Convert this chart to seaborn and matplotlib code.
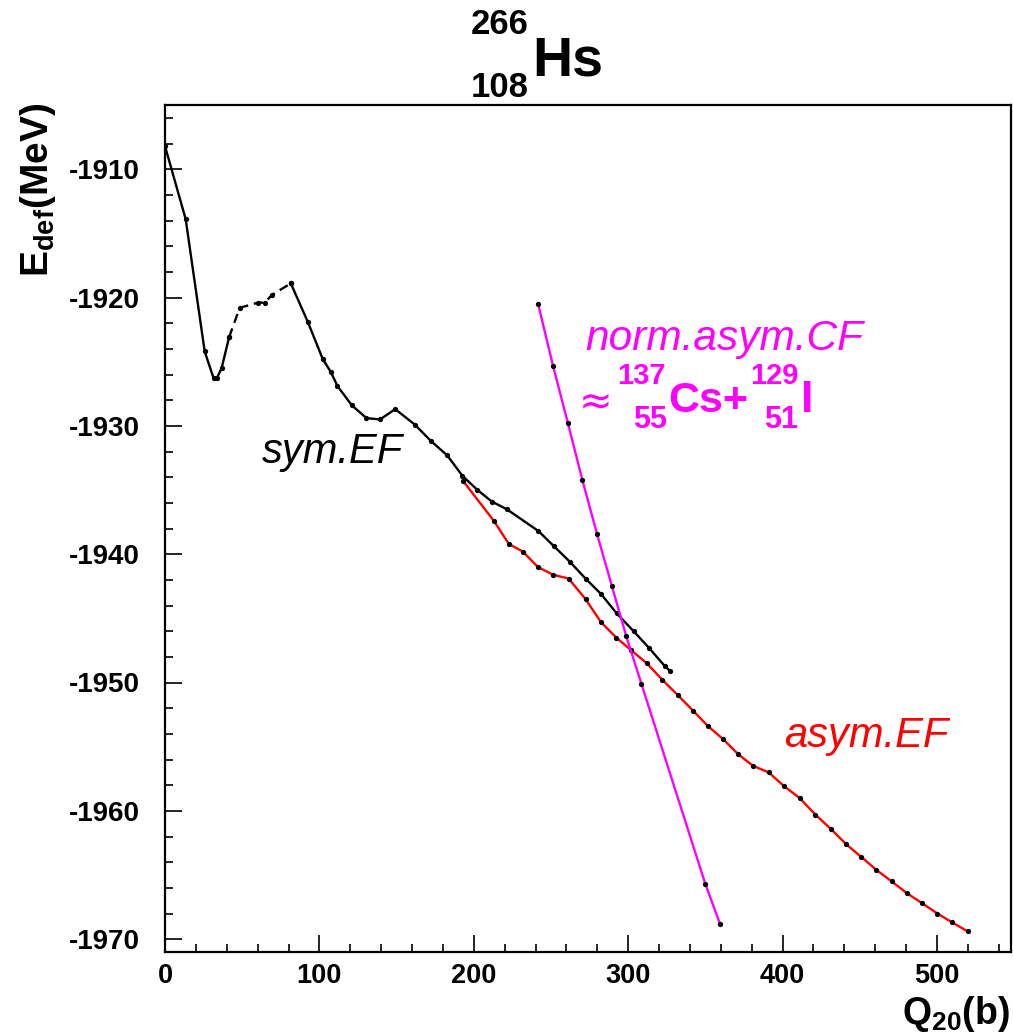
import matplotlib
matplotlib.use("Agg")
import matplotlib.pyplot as plt
import seaborn as sns
import pandas as pd
import numpy as np

# ---------------- data ----------------
sym_q = [0.0, 13.4, 25.7, 31.5, 33.5, 36.7, 41.5,
         48.4, 60.3, 64.6, 69.3, 81.5,
         92.5, 102.2, 107.4, 111.7, 121.0, 130.5, 139.3, 149.1, 161.8, 172.4,
         182.8, 192.7, 202.4, 211.7, 221.4, 241.9, 252.1, 262.3, 272.4, 282.4,
         292.5, 303.5, 313.5, 323.6, 327.1]
sym_e = [-1908.2, -1913.9, -1924.2, -1926.3, -1926.3, -1925.5, -1923.1,
         -1920.8, -1920.4, -1920.4, -1919.8, -1918.9,
         -1921.9, -1924.8, -1925.8, -1926.9, -1928.4, -1929.4, -1929.5, -1928.7,
         -1929.9, -1931.2, -1932.3, -1933.9, -1935.0, -1935.9, -1936.5, -1938.2,
         -1939.4, -1940.6, -1941.9, -1943.1, -1944.6, -1946.0, -1947.3, -1948.7,
         -1949.1]
# Q range of the dashed (uncertain) part of the symmetric path
sym_dashed_range = [41.5, 81.5]

asym_q = [193.1, 213.0, 222.7, 231.8, 241.5, 251.3, 261.4, 272.4, 282.4, 292.3,
          302.1, 312.1, 322.2, 332.3, 342.1, 351.7, 361.4, 371.4, 380.9, 391.0,
          401.2, 411.1, 421.3, 431.2, 441.2, 451.1, 460.8, 470.7, 480.4, 490.4,
          500.3, 510.0, 520.0]
asym_e = [-1934.3, -1937.4, -1939.2, -1939.8, -1941.0, -1941.6, -1941.9, -1943.5,
          -1945.3, -1946.5, -1947.5, -1948.5, -1949.8, -1951.0, -1952.2, -1953.4,
          -1954.4, -1955.6, -1956.5, -1957.0, -1958.1, -1959.0, -1960.3, -1961.4,
          -1962.6, -1963.6, -1964.6, -1965.5, -1966.4, -1967.2, -1968.0, -1968.7,
          -1969.4]

cf_q = [241.7, 251.3, 261.0, 270.3, 279.8, 289.5, 298.8, 308.6, 350.0, 359.5]
cf_e = [-1920.5, -1925.3, -1929.8, -1934.2, -1938.4, -1942.5, -1946.4, -1950.1,
        -1965.7, -1968.8]

x_ticks = [0, 100, 200, 300, 400, 500]
y_ticks = [-1970, -1960, -1950, -1940, -1930, -1920, -1910]

# ---------------- style ----------------
sns.set_style("white")
plt.rcParams["font.family"] = ["Liberation Sans", "DejaVu Sans"]
plt.rcParams["mathtext.fontset"] = "custom"
plt.rcParams["mathtext.rm"] = "Liberation Sans"
plt.rcParams["mathtext.bf"] = "Liberation Sans:bold"
plt.rcParams["mathtext.it"] = "Liberation Sans:italic"
plt.rcParams["text.color"] = "black"
plt.rcParams["xtick.color"] = "black"
plt.rcParams["ytick.color"] = "black"
plt.rcParams["axes.labelcolor"] = "black"
plt.rcParams["axes.edgecolor"] = "black"

W, H = 1013, 1036
fig = plt.figure(figsize=(W / 100, H / 100), dpi=100)
ax = fig.add_axes([165 / W, 1 - 952 / H, (1011 - 165) / W, (952 - 105) / H])


def fx(px):
    return px / W


def fy(py):
    return 1 - py / H


sym = pd.DataFrame({"q": sym_q, "e": sym_e})
lo, hi = sym_dashed_range
part1 = sym[sym.q <= lo]
part2 = sym[(sym.q >= lo) & (sym.q <= hi)]
part3 = sym[sym.q >= hi]

common = dict(sort=False, estimator=None, marker="o", markersize=3.8,
              markerfacecolor="black", markeredgecolor="black",
              markeredgewidth=0, linewidth=1.7, ax=ax, legend=False)

sns.lineplot(data=part1, x="q", y="e", color="black", **common)
sns.lineplot(data=part2, x="q", y="e", color="black", linestyle=(0, (4, 2.5)), **common)
sns.lineplot(data=part3, x="q", y="e", color="black", **common)

asym = pd.DataFrame({"q": asym_q, "e": asym_e})
sns.lineplot(data=asym, x="q", y="e", color="#ff0000", **common)

cf = pd.DataFrame({"q": cf_q, "e": cf_e})
sns.lineplot(data=cf, x="q", y="e", color="#ff00ff", **common)

ax.set_xlim(0, 548)
ax.set_ylim(-1971.0, -1905.0)
ax.set_xticks(x_ticks)
ax.set_yticks(y_ticks)
ax.set_xticks(np.arange(0, 548, 20), minor=True)
ax.set_yticks(np.arange(-1970, -1905, 2), minor=True)
ax.set_xticklabels([str(v) for v in x_ticks])
ax.set_yticklabels([str(v) for v in y_ticks])
ax.tick_params(axis="both", which="both", direction="in", top=False, right=False,
               bottom=True, left=True, color="black", width=1.2,
               labelcolor="black")
ax.tick_params(axis="both", which="major", length=12)
ax.tick_params(axis="both", which="minor", length=6)
ax.tick_params(axis="y", which="major", pad=18, labelsize=20)
ax.tick_params(axis="x", which="major", pad=8, labelsize=19.5)
for lab in ax.get_xticklabels() + ax.get_yticklabels():
    lab.set_fontweight("bold")
for s in ax.spines.values():
    s.set_color("black")
    s.set_linewidth(1.6)
ax.set_xlabel("")
ax.set_ylabel("")

# axis titles
fig.text(fx(1010), fy(1034), r"$\mathbf{Q}_{\mathbf{20}}\mathbf{(b)}$",
         ha="right", va="bottom", fontsize=27, color="black")
fig.text(fx(18), fy(277), r"$\mathbf{E}_{\mathbf{def}}\mathbf{(MeV)}$",
         rotation=90, ha="left", va="bottom", fontsize=28, color="black")

# title: 266/108 Hs
fig.text(fx(529), fy(34), "266", ha="right", va="baseline", fontsize=25, fontweight="bold")
fig.text(fx(529), fy(97), "108", ha="right", va="baseline", fontsize=25, fontweight="bold")
fig.text(fx(532), fy(75), "Hs", ha="left", va="baseline", fontsize=40, fontweight="bold")

# annotations
fig.text(fx(262), fy(463), "sym.EF", ha="left", va="baseline", fontsize=30,
         fontstyle="italic", color="black")
fig.text(fx(784), fy(747), "asym.EF", ha="left", va="baseline", fontsize=30,
         fontstyle="italic", color="#ff0000")
fig.text(fx(585), fy(350), "norm.asym.CF", ha="left", va="baseline", fontsize=30.5,
         fontstyle="italic", color="#ff00ff")

mag = "#ff00ff"
fig.text(fx(579), fy(413), "\u2248", ha="left", va="baseline", fontsize=29,
         color=mag, family=["DejaVu Sans"])
fig.text(fx(666), fy(384), "137", ha="right", va="baseline", fontsize=21, fontweight="bold", color=mag)
fig.text(fx(667), fy(428), "55", ha="right", va="baseline", fontsize=22, fontweight="bold", color=mag)
fig.text(fx(668), fy(412), "Cs+", ha="left", va="baseline", fontsize=31, fontweight="bold", color=mag)
fig.text(fx(798), fy(384), "129", ha="right", va="baseline", fontsize=21, fontweight="bold", color=mag)
fig.text(fx(798), fy(428), "51", ha="right", va="baseline", fontsize=22, fontweight="bold", color=mag)
fig.text(fx(801), fy(412), "I", ha="left", va="baseline", fontsize=32, fontweight="bold", color=mag)

fig.savefig("out.png", dpi=100, facecolor="white")
